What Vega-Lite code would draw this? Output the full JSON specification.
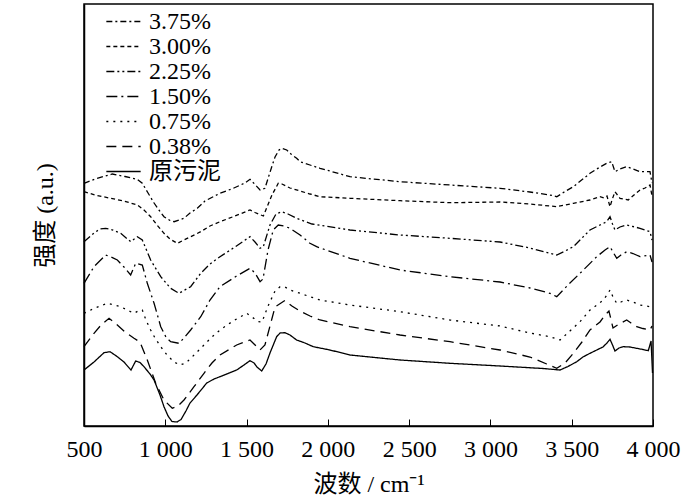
{
"$schema": "https://vega.github.io/schema/vega-lite/v6.json",
"width": 569, "height": 422,
"autosize": {"type": "none"},
"padding": {"left": 84, "top": 4, "right": 47, "bottom": 76},
"background": "white",
"config": {"view": {"stroke": "black", "strokeWidth": 1.5}, "font": "'Liberation Serif', 'Times New Roman', 'Noto Sans CJK SC', serif"},
"data": {"values": [
{"c":"原污泥","w":500,"i":56},{"c":"原污泥","w":561.5,"i":64},{"c":"原污泥","w":623,"i":73.3},{"c":"原污泥","w":660,"i":74.3},{"c":"原污泥","w":705,"i":69.3},{"c":"原污泥","w":746,"i":64},{"c":"原污泥","w":789,"i":56},{"c":"原污泥","w":818,"i":65},{"c":"原污泥","w":844.5,"i":63.5},{"c":"原污泥","w":869,"i":59.3},{"c":"原污泥","w":906,"i":52},{"c":"原污泥","w":931,"i":46},{"c":"原污泥","w":967.5,"i":31},{"c":"原污泥","w":992,"i":19.3},{"c":"原污泥","w":1017,"i":10},{"c":"原污泥","w":1041,"i":4.5},{"c":"原污泥","w":1072,"i":4},{"c":"原污泥","w":1097,"i":6.5},{"c":"原污泥","w":1127,"i":15},{"c":"原污泥","w":1152,"i":23},{"c":"原污泥","w":1195,"i":31},{"c":"原污泥","w":1255,"i":43},{"c":"原污泥","w":1300,"i":47},{"c":"原污泥","w":1336.5,"i":49.3},{"c":"原污泥","w":1439,"i":56},{"c":"原污泥","w":1484,"i":61},{"c":"原污泥","w":1521,"i":65.3},{"c":"原污泥","w":1546,"i":63},{"c":"原污泥","w":1564,"i":59},{"c":"原污泥","w":1593,"i":55},{"c":"原污泥","w":1619.5,"i":62},{"c":"原污泥","w":1644,"i":73},{"c":"原污泥","w":1685,"i":89.3},{"c":"原污泥","w":1706,"i":93},{"c":"原污泥","w":1736,"i":93.3},{"c":"原污泥","w":1767,"i":91},{"c":"原污泥","w":1808,"i":86},{"c":"原污泥","w":1859,"i":83},{"c":"原污泥","w":1910.5,"i":79.3},{"c":"原污泥","w":2013,"i":76},{"c":"原污泥","w":2136,"i":71},{"c":"原污泥","w":2444,"i":66},{"c":"原污泥","w":2751,"i":62.7},{"c":"原污泥","w":3059,"i":60},{"c":"原污泥","w":3323,"i":57.5},{"c":"原污泥","w":3428,"i":56},{"c":"原污泥","w":3477,"i":59.5},{"c":"原污泥","w":3531,"i":64.3},{"c":"原污泥","w":3569,"i":69},{"c":"原污泥","w":3612.5,"i":72.7},{"c":"原污泥","w":3654,"i":76},{"c":"原污泥","w":3692,"i":79},{"c":"原污泥","w":3717,"i":83},{"c":"原污泥","w":3735.5,"i":86.7},{"c":"原污泥","w":3751,"i":81},{"c":"原污泥","w":3766,"i":75},{"c":"原污泥","w":3791,"i":78},{"c":"原污泥","w":3817,"i":79.3},{"c":"原污泥","w":3858,"i":79},{"c":"原污泥","w":3900,"i":77.7},{"c":"原污泥","w":3938,"i":76.5},{"c":"原污泥","w":3971,"i":75.3},{"c":"原污泥","w":3988,"i":85},{"c":"原污泥","w":3997,"i":53},
{"c":"0.38%","w":500,"i":79.3},{"c":"0.38%","w":561.5,"i":92.7},{"c":"0.38%","w":604.6,"i":101},{"c":"0.38%","w":654,"i":107.7},{"c":"0.38%","w":705,"i":101},{"c":"0.38%","w":752,"i":94},{"c":"0.38%","w":807.6,"i":87.7},{"c":"0.38%","w":844.5,"i":84},{"c":"0.38%","w":889.4,"i":66},{"c":"0.38%","w":941,"i":42.7},{"c":"0.38%","w":992,"i":26},{"c":"0.38%","w":1043,"i":17.7},{"c":"0.38%","w":1078,"i":20},{"c":"0.38%","w":1115,"i":26},{"c":"0.38%","w":1176.6,"i":39.3},{"c":"0.38%","w":1238,"i":52.7},{"c":"0.38%","w":1287,"i":63},{"c":"0.38%","w":1336.5,"i":71},{"c":"0.38%","w":1439,"i":81},{"c":"0.38%","w":1521,"i":86},{"c":"0.38%","w":1546,"i":82},{"c":"0.38%","w":1582.6,"i":76},{"c":"0.38%","w":1613,"i":81},{"c":"0.38%","w":1675,"i":119},{"c":"0.38%","w":1736,"i":125.5},{"c":"0.38%","w":1779,"i":120},{"c":"0.38%","w":1829,"i":115},{"c":"0.38%","w":1890,"i":110},{"c":"0.38%","w":1952,"i":106},{"c":"0.38%","w":2136,"i":99.3},{"c":"0.38%","w":2444,"i":91},{"c":"0.38%","w":2751,"i":84.3},{"c":"0.38%","w":3059,"i":76},{"c":"0.38%","w":3243,"i":69},{"c":"0.38%","w":3346,"i":62},{"c":"0.38%","w":3408,"i":57.7},{"c":"0.38%","w":3459,"i":63},{"c":"0.38%","w":3510,"i":72.7},{"c":"0.38%","w":3563,"i":84},{"c":"0.38%","w":3612.5,"i":96},{"c":"0.38%","w":3674,"i":104},{"c":"0.38%","w":3705,"i":111},{"c":"0.38%","w":3729,"i":115},{"c":"0.38%","w":3754,"i":98},{"c":"0.38%","w":3791,"i":102},{"c":"0.38%","w":3838,"i":106},{"c":"0.38%","w":3865,"i":103},{"c":"0.38%","w":3900,"i":99.3},{"c":"0.38%","w":3938,"i":97.5},{"c":"0.38%","w":3981.5,"i":96},{"c":"0.38%","w":3994,"i":100},
{"c":"0.75%","w":500,"i":112.7},{"c":"0.75%","w":567.7,"i":118},{"c":"0.75%","w":643,"i":122.7},{"c":"0.75%","w":684.5,"i":121},{"c":"0.75%","w":725.7,"i":119.3},{"c":"0.75%","w":764.5,"i":116},{"c":"0.75%","w":807.6,"i":112.7},{"c":"0.75%","w":832,"i":115},{"c":"0.75%","w":858.6,"i":116},{"c":"0.75%","w":881,"i":106},{"c":"0.75%","w":910,"i":96},{"c":"0.75%","w":937,"i":88},{"c":"0.75%","w":972,"i":79.3},{"c":"0.75%","w":1010.5,"i":71},{"c":"0.75%","w":1054,"i":64},{"c":"0.75%","w":1090.5,"i":61},{"c":"0.75%","w":1127,"i":63},{"c":"0.75%","w":1177,"i":71},{"c":"0.75%","w":1238,"i":81},{"c":"0.75%","w":1287,"i":89},{"c":"0.75%","w":1336.5,"i":96},{"c":"0.75%","w":1416.5,"i":105},{"c":"0.75%","w":1501,"i":112.7},{"c":"0.75%","w":1533,"i":109},{"c":"0.75%","w":1572,"i":104.3},{"c":"0.75%","w":1595,"i":104},{"c":"0.75%","w":1632,"i":120},{"c":"0.75%","w":1675,"i":135},{"c":"0.75%","w":1706,"i":139.3},{"c":"0.75%","w":1736,"i":139},{"c":"0.75%","w":1767,"i":136},{"c":"0.75%","w":1829,"i":132.7},{"c":"0.75%","w":1890,"i":129.3},{"c":"0.75%","w":1952,"i":126},{"c":"0.75%","w":2136,"i":121},{"c":"0.75%","w":2444,"i":114.3},{"c":"0.75%","w":2751,"i":106},{"c":"0.75%","w":3059,"i":100},{"c":"0.75%","w":3243,"i":93},{"c":"0.75%","w":3366,"i":89.3},{"c":"0.75%","w":3428,"i":86},{"c":"0.75%","w":3489,"i":95},{"c":"0.75%","w":3551,"i":104.3},{"c":"0.75%","w":3612.5,"i":116},{"c":"0.75%","w":3655.5,"i":121},{"c":"0.75%","w":3694,"i":126},{"c":"0.75%","w":3717,"i":131},{"c":"0.75%","w":3735.5,"i":136},{"c":"0.75%","w":3754,"i":129},{"c":"0.75%","w":3777,"i":122.7},{"c":"0.75%","w":3803,"i":124},{"c":"0.75%","w":3838,"i":126},{"c":"0.75%","w":3877,"i":124},{"c":"0.75%","w":3920,"i":121},{"c":"0.75%","w":3981.5,"i":119.3},{"c":"0.75%","w":3994,"i":120},
{"c":"1.50%","w":500,"i":142.7},{"c":"1.50%","w":561.5,"i":159.3},{"c":"1.50%","w":633.5,"i":171},{"c":"1.50%","w":666,"i":169},{"c":"1.50%","w":705,"i":166},{"c":"1.50%","w":746,"i":159},{"c":"1.50%","w":787,"i":151},{"c":"1.50%","w":818,"i":162.7},{"c":"1.50%","w":858.6,"i":161},{"c":"1.50%","w":889.4,"i":142.7},{"c":"1.50%","w":931,"i":122.7},{"c":"1.50%","w":972,"i":99.3},{"c":"1.50%","w":1004,"i":89},{"c":"1.50%","w":1033,"i":84.3},{"c":"1.50%","w":1084,"i":82.7},{"c":"1.50%","w":1115,"i":88},{"c":"1.50%","w":1156,"i":96},{"c":"1.50%","w":1218,"i":109.3},{"c":"1.50%","w":1275,"i":126},{"c":"1.50%","w":1336.5,"i":139.3},{"c":"1.50%","w":1429,"i":149},{"c":"1.50%","w":1521,"i":157.7},{"c":"1.50%","w":1552,"i":153},{"c":"1.50%","w":1583,"i":144.3},{"c":"1.50%","w":1601,"i":147},{"c":"1.50%","w":1632,"i":176},{"c":"1.50%","w":1664,"i":196},{"c":"1.50%","w":1695,"i":201},{"c":"1.50%","w":1730,"i":200},{"c":"1.50%","w":1767,"i":197.7},{"c":"1.50%","w":1829,"i":191},{"c":"1.50%","w":1890,"i":182.7},{"c":"1.50%","w":1931,"i":179.3},{"c":"1.50%","w":2136,"i":167.7},{"c":"1.50%","w":2444,"i":156},{"c":"1.50%","w":2751,"i":149.3},{"c":"1.50%","w":3059,"i":144},{"c":"1.50%","w":3243,"i":138},{"c":"1.50%","w":3366,"i":132.7},{"c":"1.50%","w":3408,"i":129.3},{"c":"1.50%","w":3477,"i":141},{"c":"1.50%","w":3551,"i":152.7},{"c":"1.50%","w":3654,"i":169.3},{"c":"1.50%","w":3705,"i":176},{"c":"1.50%","w":3735.5,"i":179.3},{"c":"1.50%","w":3754,"i":174},{"c":"1.50%","w":3777,"i":167.7},{"c":"1.50%","w":3803,"i":171},{"c":"1.50%","w":3838,"i":174.3},{"c":"1.50%","w":3877,"i":172.5},{"c":"1.50%","w":3920,"i":169.3},{"c":"1.50%","w":3981.5,"i":171},{"c":"1.50%","w":3994,"i":164},
{"c":"2.25%","w":500,"i":184.3},{"c":"2.25%","w":561.5,"i":193},{"c":"2.25%","w":598,"i":197},{"c":"2.25%","w":633.5,"i":197.7},{"c":"2.25%","w":678,"i":196},{"c":"2.25%","w":726,"i":192.7},{"c":"2.25%","w":787,"i":184.3},{"c":"2.25%","w":828,"i":189.3},{"c":"2.25%","w":858.6,"i":186},{"c":"2.25%","w":910,"i":166},{"c":"2.25%","w":972,"i":149.3},{"c":"2.25%","w":1033,"i":137.7},{"c":"2.25%","w":1084,"i":132.7},{"c":"2.25%","w":1156,"i":139.3},{"c":"2.25%","w":1218,"i":152.7},{"c":"2.25%","w":1275,"i":162},{"c":"2.25%","w":1336.5,"i":169.3},{"c":"2.25%","w":1429,"i":179},{"c":"2.25%","w":1521,"i":189.3},{"c":"2.25%","w":1552,"i":184},{"c":"2.25%","w":1583,"i":177.7},{"c":"2.25%","w":1603,"i":179.3},{"c":"2.25%","w":1644,"i":201},{"c":"2.25%","w":1681,"i":212},{"c":"2.25%","w":1716,"i":214.3},{"c":"2.25%","w":1755,"i":212},{"c":"2.25%","w":1808,"i":207.7},{"c":"2.25%","w":1902.5,"i":202},{"c":"2.25%","w":2136,"i":196},{"c":"2.25%","w":2444,"i":191},{"c":"2.25%","w":2751,"i":187.7},{"c":"2.25%","w":3059,"i":184},{"c":"2.25%","w":3243,"i":178},{"c":"2.25%","w":3366,"i":172.7},{"c":"2.25%","w":3408,"i":171},{"c":"2.25%","w":3459,"i":175},{"c":"2.25%","w":3510,"i":179.3},{"c":"2.25%","w":3612.5,"i":196},{"c":"2.25%","w":3674,"i":201},{"c":"2.25%","w":3715,"i":204.3},{"c":"2.25%","w":3735.5,"i":209.3},{"c":"2.25%","w":3751,"i":202},{"c":"2.25%","w":3766,"i":196},{"c":"2.25%","w":3797,"i":199},{"c":"2.25%","w":3838,"i":201},{"c":"2.25%","w":3877,"i":199.5},{"c":"2.25%","w":3920,"i":197.7},{"c":"2.25%","w":3981.5,"i":194.3},{"c":"2.25%","w":3994,"i":186},
{"c":"3.00%","w":500,"i":234.3},{"c":"3.00%","w":567.7,"i":231},{"c":"3.00%","w":664,"i":227.7},{"c":"3.00%","w":746,"i":225},{"c":"3.00%","w":828,"i":221},{"c":"3.00%","w":869,"i":216},{"c":"3.00%","w":910,"i":209.3},{"c":"3.00%","w":949,"i":201},{"c":"3.00%","w":992,"i":192.7},{"c":"3.00%","w":1029,"i":187},{"c":"3.00%","w":1074,"i":182.7},{"c":"3.00%","w":1115,"i":186},{"c":"3.00%","w":1156,"i":189.3},{"c":"3.00%","w":1218,"i":194.3},{"c":"3.00%","w":1275,"i":200},{"c":"3.00%","w":1336.5,"i":204.3},{"c":"3.00%","w":1429,"i":210},{"c":"3.00%","w":1521,"i":216},{"c":"3.00%","w":1552,"i":213.5},{"c":"3.00%","w":1603,"i":210},{"c":"3.00%","w":1656,"i":231},{"c":"3.00%","w":1695,"i":242.7},{"c":"3.00%","w":1718,"i":242},{"c":"3.00%","w":1767,"i":238},{"c":"3.00%","w":1829,"i":235},{"c":"3.00%","w":1890,"i":232},{"c":"3.00%","w":1952,"i":229.3},{"c":"3.00%","w":2136,"i":227.7},{"c":"3.00%","w":2444,"i":225.3},{"c":"3.00%","w":2751,"i":223.3},{"c":"3.00%","w":3059,"i":224},{"c":"3.00%","w":3243,"i":222},{"c":"3.00%","w":3366,"i":220},{"c":"3.00%","w":3408,"i":219.3},{"c":"3.00%","w":3510,"i":222.7},{"c":"3.00%","w":3612.5,"i":226},{"c":"3.00%","w":3674,"i":229.3},{"c":"3.00%","w":3699,"i":228},{"c":"3.00%","w":3717,"i":230},{"c":"3.00%","w":3735.5,"i":219.3},{"c":"3.00%","w":3748,"i":226},{"c":"3.00%","w":3766,"i":234.3},{"c":"3.00%","w":3797,"i":227.7},{"c":"3.00%","w":3848,"i":226},{"c":"3.00%","w":3883,"i":231},{"c":"3.00%","w":3920,"i":236},{"c":"3.00%","w":3951,"i":238},{"c":"3.00%","w":3981.5,"i":241},{"c":"3.00%","w":3994,"i":230},
{"c":"3.75%","w":500,"i":242.7},{"c":"3.75%","w":567.7,"i":247},{"c":"3.75%","w":674,"i":252},{"c":"3.75%","w":752,"i":249.5},{"c":"3.75%","w":828,"i":246.7},{"c":"3.75%","w":858.6,"i":242.7},{"c":"3.75%","w":894,"i":233},{"c":"3.75%","w":931,"i":223},{"c":"3.75%","w":961,"i":216},{"c":"3.75%","w":992,"i":209.3},{"c":"3.75%","w":1029,"i":205.5},{"c":"3.75%","w":1054,"i":204.3},{"c":"3.75%","w":1084,"i":206},{"c":"3.75%","w":1115,"i":207.7},{"c":"3.75%","w":1152,"i":213},{"c":"3.75%","w":1197,"i":217.7},{"c":"3.75%","w":1244,"i":225},{"c":"3.75%","w":1336.5,"i":232.7},{"c":"3.75%","w":1418,"i":237.7},{"c":"3.75%","w":1490,"i":243},{"c":"3.75%","w":1521,"i":246.7},{"c":"3.75%","w":1552,"i":241.5},{"c":"3.75%","w":1583,"i":236},{"c":"3.75%","w":1613,"i":237.7},{"c":"3.75%","w":1655,"i":259.3},{"c":"3.75%","w":1675,"i":269},{"c":"3.75%","w":1699.5,"i":276},{"c":"3.75%","w":1718,"i":277.7},{"c":"3.75%","w":1747,"i":276},{"c":"3.75%","w":1773,"i":272},{"c":"3.75%","w":1808,"i":267.7},{"c":"3.75%","w":1829,"i":264.3},{"c":"3.75%","w":1890,"i":261},{"c":"3.75%","w":1952,"i":257.7},{"c":"3.75%","w":2136,"i":249.3},{"c":"3.75%","w":2444,"i":244.3},{"c":"3.75%","w":2751,"i":241},{"c":"3.75%","w":3059,"i":237.7},{"c":"3.75%","w":3243,"i":234},{"c":"3.75%","w":3366,"i":231},{"c":"3.75%","w":3408,"i":229.3},{"c":"3.75%","w":3459,"i":234.5},{"c":"3.75%","w":3510,"i":239.3},{"c":"3.75%","w":3612.5,"i":252.7},{"c":"3.75%","w":3674,"i":259},{"c":"3.75%","w":3715,"i":262.7},{"c":"3.75%","w":3746,"i":264.3},{"c":"3.75%","w":3766,"i":254.3},{"c":"3.75%","w":3797,"i":257},{"c":"3.75%","w":3838,"i":259.3},{"c":"3.75%","w":3877,"i":257},{"c":"3.75%","w":3920,"i":254.3},{"c":"3.75%","w":3981.5,"i":254.3},{"c":"3.75%","w":3994,"i":243}
]},
"mark": {"type": "line", "color": "black", "strokeWidth": 1.3},
"encoding": {
  "x": {"field": "w", "type": "quantitative",
        "scale": {"domain": [500, 4000], "nice": false, "zero": false},
        "axis": {"values": [500,1000,1500,2000,2500,3000,3500,4000], "grid": false,
                 "labelExpr": "replace(format(datum.value, ','), ',', ' ')",
                 "tickSize": -7, "tickColor": "black", "tickWidth": 1, "domainColor": "black", "domainWidth": 1.5,
                 "labelFont": "'Liberation Serif', 'Times New Roman', serif", "labelFontSize": 24, "labelColor": "black", "labelPadding": 18, "labelFlush": false,
                 "title": "波数 / cm⁻¹", "titleFont": "'Liberation Serif', 'Times New Roman', 'Noto Sans CJK SC', serif", "titleFontSize": 24, "titleFontWeight": "normal", "titleColor": "black", "titlePadding": 11}},
  "y": {"field": "i", "type": "quantitative",
        "scale": {"domain": [0, 422], "nice": false, "zero": false},
        "axis": {"labels": false, "ticks": false, "grid": false, "domainColor": "black", "domainWidth": 1.5,
                 "title": "强度 (a.u.)", "titleFont": "'Liberation Serif', 'Times New Roman', 'Noto Sans CJK SC', serif", "titleFontSize": 24, "titleFontWeight": "normal", "titleColor": "black", "titlePadding": 27}},
  "strokeDash": {"field": "c", "type": "nominal",
        "scale": {"domain": ["3.75%","3.00%","2.25%","1.50%","0.75%","0.38%","原污泥"],
                  "range": [[6,3,2,3],[4,3],[8,3,2,3,2,3],[11,4,2,4],[2,5],[10,6],[1,0]]},
        "legend": {"title": null, "orient": "none", "legendX": 27, "legendY": 5, "padding": 0,
                   "labelFont": "'Liberation Serif', 'Times New Roman', 'Noto Sans CJK SC', serif", "labelFontSize": 24, "labelColor": "black", "labelOffset": 13,
                   "symbolType": "M-1.45,0H1.45", "symbolSize": 560, "symbolStrokeWidth": 1.3, "symbolStrokeColor": "black", "rowPadding": 0}}
}
}
